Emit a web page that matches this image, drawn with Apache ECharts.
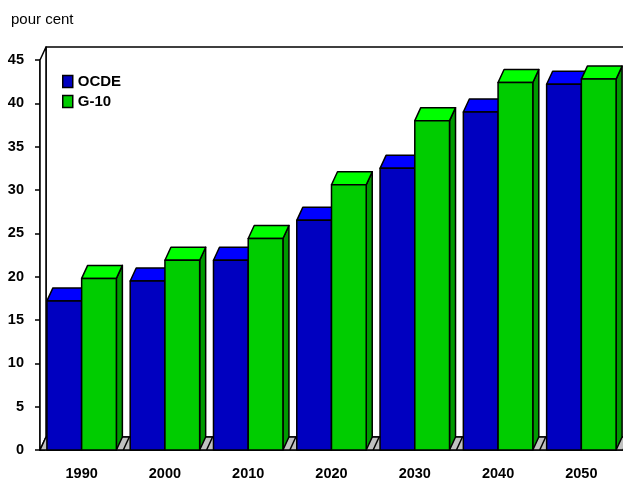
<!DOCTYPE html>
<html>
<head>
<meta charset="utf-8">
<script src="https://cdn.jsdelivr.net/npm/echarts@6/dist/echarts.min.js"></script>
<style>
  html, body { margin: 0; padding: 0; background: #fff; }
  #chart { width: 623px; height: 481px; }
</style>
</head>
<body>
<div id="chart"></div>
<script>
// Categories and values (per cent)
const years = ['1990', '2000', '2010', '2020', '2030', '2040', '2050'];
const ocde = [17.2, 19.5, 21.9, 26.5, 32.5, 39.0, 42.2];
const g10 = [19.8, 21.9, 24.4, 30.6, 38.0, 42.4, 42.8];

// Pseudo-3D look: depth offset of the back plane and bar width share of a category band
const DEPTH_X = 6;
const DEPTH_Y = -13;
const BAR_FRAC = 0.417;
const FONT = '"Liberation Sans", Arial, sans-serif';

const palette = {
  ocde: { front: '#0000C0', top: '#0000FF', side: '#000080' },
  g10: { front: '#00CC00', top: '#00FF00', side: '#009900' }
};

const stroke = { stroke: '#000', lineWidth: 1.5, lineJoin: 'round' };

function barRenderer(leftSide, colors) {
  return function (params, api) {
    const cat = api.value(0);
    const top = api.coord([cat, api.value(1)]);
    const base = api.coord([cat, 0]);
    const w = api.size([1, 0])[0] * BAR_FRAC;
    const x0 = leftSide ? top[0] - w : top[0];
    const x1 = x0 + w;
    const yt = top[1], yb = base[1];
    return {
      type: 'group',
      children: [
        {
          type: 'polygon',
          shape: { points: [[x1, yt], [x1 + DEPTH_X, yt + DEPTH_Y], [x1 + DEPTH_X, yb + DEPTH_Y], [x1, yb]] },
          style: Object.assign({ fill: colors.side }, stroke)
        },
        {
          type: 'polygon',
          shape: { points: [[x0, yt], [x0 + DEPTH_X, yt + DEPTH_Y], [x1 + DEPTH_X, yt + DEPTH_Y], [x1, yt]] },
          style: Object.assign({ fill: colors.top }, stroke)
        },
        {
          type: 'rect',
          shape: { x: x0, y: yt, width: w, height: yb - yt },
          style: Object.assign({ fill: colors.front }, stroke)
        }
      ]
    };
  };
}

// Back wall, side wall and floor of the plot box
function frameRenderer(params, api) {
  const cs = params.coordSys;
  const x = cs.x, y = cs.y, w = cs.width, h = cs.height;
  const yb = y + h;
  const band = api.size([1, 0])[0];
  const children = [
    {
      type: 'rect',
      shape: { x: x + DEPTH_X, y: y + DEPTH_Y, width: w, height: h },
      style: Object.assign({ fill: '#fff' }, stroke)
    },
    {
      type: 'polygon',
      shape: { points: [[x, y], [x + DEPTH_X, y + DEPTH_Y], [x + DEPTH_X, yb + DEPTH_Y], [x, yb]] },
      style: Object.assign({ fill: '#fff' }, stroke)
    },
    {
      type: 'polygon',
      shape: { points: [[x, yb], [x + w, yb], [x + w + DEPTH_X, yb + DEPTH_Y], [x + DEPTH_X, yb + DEPTH_Y]] },
      style: Object.assign({ fill: '#C0C0C0' }, stroke)
    }
  ];
  for (let k = 1; k < years.length; k++) {
    const bx = x + k * band;
    children.push({
      type: 'line',
      shape: { x1: bx, y1: yb, x2: bx + DEPTH_X, y2: yb + DEPTH_Y },
      style: { stroke: '#000', lineWidth: 1.5 }
    });
  }
  return { type: 'group', children: children };
}

const chart = echarts.init(document.getElementById('chart'), null, { renderer: 'canvas' });

chart.setOption({
  animation: false,
  backgroundColor: '#fff',
  title: {
    text: 'pour cent',
    left: 6,
    top: 7,
    textStyle: { fontFamily: FONT, fontSize: 15, fontWeight: 'normal', color: '#000' }
  },
  legend: {
    orient: 'vertical',
    left: 57,
    top: 69,
    itemWidth: 10,
    itemHeight: 12,
    itemGap: 5,
    selectedMode: false,
    textStyle: { fontFamily: FONT, fontSize: 15, fontWeight: 'bold', color: '#000' },
    data: [
      { name: 'OCDE', icon: 'rect', itemStyle: { color: palette.ocde.front, borderColor: '#000', borderWidth: 1.5 } },
      { name: 'G-10', icon: 'rect', itemStyle: { color: palette.g10.front, borderColor: '#000', borderWidth: 1.5 } }
    ]
  },
  grid: { left: 40, top: 60, width: 587, height: 390 },
  xAxis: {
    type: 'category',
    data: years,
    axisLine: { lineStyle: { color: '#000', width: 1.5 } },
    axisTick: { alignWithLabel: true, length: 6, lineStyle: { color: '#000', width: 1.5 } },
    axisLabel: { margin: 16, fontFamily: FONT, fontSize: 14.5, fontWeight: 'bold', color: '#000' },
    splitLine: { show: false }
  },
  yAxis: [
    {
      type: 'value',
      min: 0,
      max: 45,
      interval: 5,
      axisLine: { show: true, lineStyle: { color: '#000', width: 1.5 } },
      axisTick: { show: true, length: 5, lineStyle: { color: '#000', width: 1.5 } },
      axisLabel: { margin: 16, fontFamily: FONT, fontSize: 14.5, fontWeight: 'bold', color: '#000' },
      splitLine: { show: false }
    },
    {
      type: 'value',
      min: 0,
      max: 45,
      interval: 5,
      position: 'left',
      axisLine: { show: false },
      axisTick: { show: true, inside: true, length: 5, lineStyle: { color: '#000', width: 1.5 } },
      axisLabel: { show: false },
      splitLine: { show: false }
    }
  ],
  series: [
    {
      name: 'frame',
      type: 'custom',
      z: 1,
      silent: true,
      renderItem: frameRenderer,
      data: [[0, 0]],
      encode: { x: 0, y: 1 }
    },
    {
      name: 'OCDE',
      type: 'custom',
      z: 3,
      itemStyle: { color: palette.ocde.front },
      renderItem: barRenderer(true, palette.ocde),
      data: years.map((y, i) => [i, ocde[i]]),
      encode: { x: 0, y: 1 }
    },
    {
      name: 'G-10',
      type: 'custom',
      z: 4,
      itemStyle: { color: palette.g10.front },
      renderItem: barRenderer(false, palette.g10),
      data: years.map((y, i) => [i, g10[i]]),
      encode: { x: 0, y: 1 }
    }
  ]
});
</script>
</body>
</html>
